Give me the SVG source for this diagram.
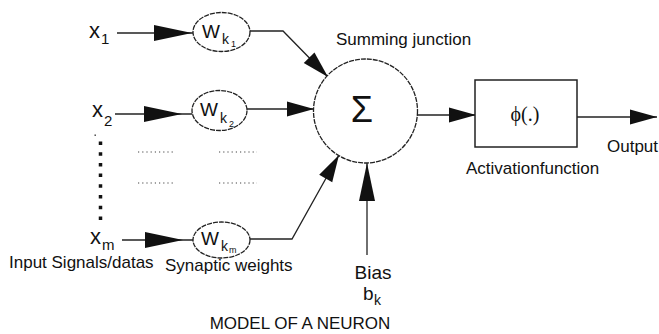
<svg xmlns="http://www.w3.org/2000/svg" xmlns:xlink="http://www.w3.org/1999/xlink" width="659" height="334" viewBox="0 0 659 334">
<style>
text{font-family:"Liberation Sans",Arial,sans-serif;fill:#111}
.lbl{font-size:17px}
.node{fill:#fff;stroke:#222;stroke-width:1.3;stroke-dasharray:5 1}
.box{fill:#fff;stroke:#222;stroke-width:1.5}
.ln{fill:none;stroke:#222;stroke-width:1.3}
.ah{fill:#111;stroke:none}
.dots{fill:none;stroke:#444;stroke-width:1.2;stroke-dasharray:1.2 3}
</style>
<defs>
<path id="ahL" d="M0,0 L-38,-8 L-38,8 Z"/>
<path id="ahM" d="M0,0 L-27,-7.5 L-27,7.5 Z"/>
</defs>
<rect width="659" height="334" fill="#fff"/>

<g id="connectors">
<line class="ln" x1="117" y1="33" x2="193" y2="33"/>
<use xlink:href="#ahL" class="ah" transform="translate(192,33)"/>
<line class="ln" x1="115" y1="114" x2="192" y2="114"/>
<use xlink:href="#ahL" class="ah" transform="translate(182,114)"/>
<line class="ln" x1="122" y1="240" x2="193" y2="240"/>
<use xlink:href="#ahL" class="ah" transform="translate(183,240)"/>
<polyline class="ln" points="250,31 283,31 328,77"/>
<use xlink:href="#ahM" class="ah" transform="translate(328,77) rotate(45.6)"/>
<line class="ln" x1="247" y1="109" x2="314" y2="109"/>
<use xlink:href="#ahM" class="ah" transform="translate(314,109)"/>
<polyline class="ln" points="250,239 292,239 339,155"/>
<use xlink:href="#ahM" class="ah" transform="translate(339,155) rotate(-60.5)"/>
<line class="ln" x1="367" y1="255" x2="367" y2="163"/>
<use xlink:href="#ahL" class="ah" transform="translate(367,163) rotate(-90)"/>
<line class="ln" x1="417" y1="115" x2="475" y2="115"/>
<use xlink:href="#ahM" class="ah" transform="translate(476,115)"/>
<line class="ln" x1="577" y1="117" x2="657" y2="117"/>
<use xlink:href="#ahM" class="ah" transform="translate(657,117)"/>
</g>

<g id="inputs">
<text x="89" y="38" font-size="22">x<tspan x="101" y="44" font-size="15">1</tspan></text>
<text x="92" y="117" font-size="22">x<tspan x="104" y="126" font-size="15">2</tspan></text>
<text x="90" y="244" font-size="22">x<tspan x="102" y="250" font-size="15">m</tspan></text>
<rect x="94.5" y="134.5" width="1.4" height="1.4" fill="#333"/>
<line x1="100.5" y1="141.5" x2="100.5" y2="221" stroke="#111" stroke-width="3.5" stroke-dasharray="3.5 7.2"/>
<text class="lbl" x="9" y="268">Input Signals/datas</text>
</g>

<g id="w1">
<ellipse class="node" cx="221.5" cy="32" rx="28.5" ry="19.5"/>
<text x="202" y="38" font-size="19">W<tspan x="222" y="44" font-size="14">k</tspan><tspan x="231" y="47" font-size="9">1</tspan></text>
</g>
<g id="w2">
<ellipse class="node" cx="219.5" cy="110.5" rx="27.5" ry="20"/>
<text x="200" y="116" font-size="19">W<tspan x="220" y="123" font-size="14">k</tspan><tspan x="229" y="127" font-size="9">2</tspan></text>
</g>
<g id="wm">
<ellipse class="node" cx="221.5" cy="240" rx="28.5" ry="18"/>
<text x="201" y="245" font-size="19">W<tspan x="221" y="251" font-size="14">k</tspan><tspan x="229" y="253" font-size="9">m</tspan></text>
</g>
<g id="dotted-rows">
<line class="dots" x1="138" y1="152" x2="173" y2="152"/>
<line class="dots" x1="219" y1="152" x2="257" y2="152"/>
<line class="dots" x1="138" y1="183" x2="173" y2="183"/>
<line class="dots" x1="219" y1="183" x2="257" y2="183"/>
<text class="lbl" x="165" y="271">Synaptic weights</text>
</g>

<g id="sum">
<circle class="node" cx="365.5" cy="111" r="52"/>
<text x="362" y="122" font-size="36" text-anchor="middle">Σ</text>
<text class="lbl" x="336" y="45">Summing junction</text>
</g>

<g id="activation">
<rect class="box" x="475" y="80" width="102" height="67"/>
<text x="525" y="121" font-size="20" text-anchor="middle" style="font-family:'Liberation Serif','Times New Roman',serif">ϕ(.)</text>
<text class="lbl" x="466" y="174">Activationfunction</text>
</g>

<g id="output">
<text class="lbl" x="607" y="152">Output</text>
</g>

<g id="bias">
<text x="373" y="279" font-size="19" text-anchor="middle">Bias</text>
<text x="363" y="300" font-size="19">b<tspan x="374" y="305" font-size="14">k</tspan></text>
</g>

<text x="300" y="329" font-size="17" text-anchor="middle">MODEL OF A NEURON</text>
</svg>
